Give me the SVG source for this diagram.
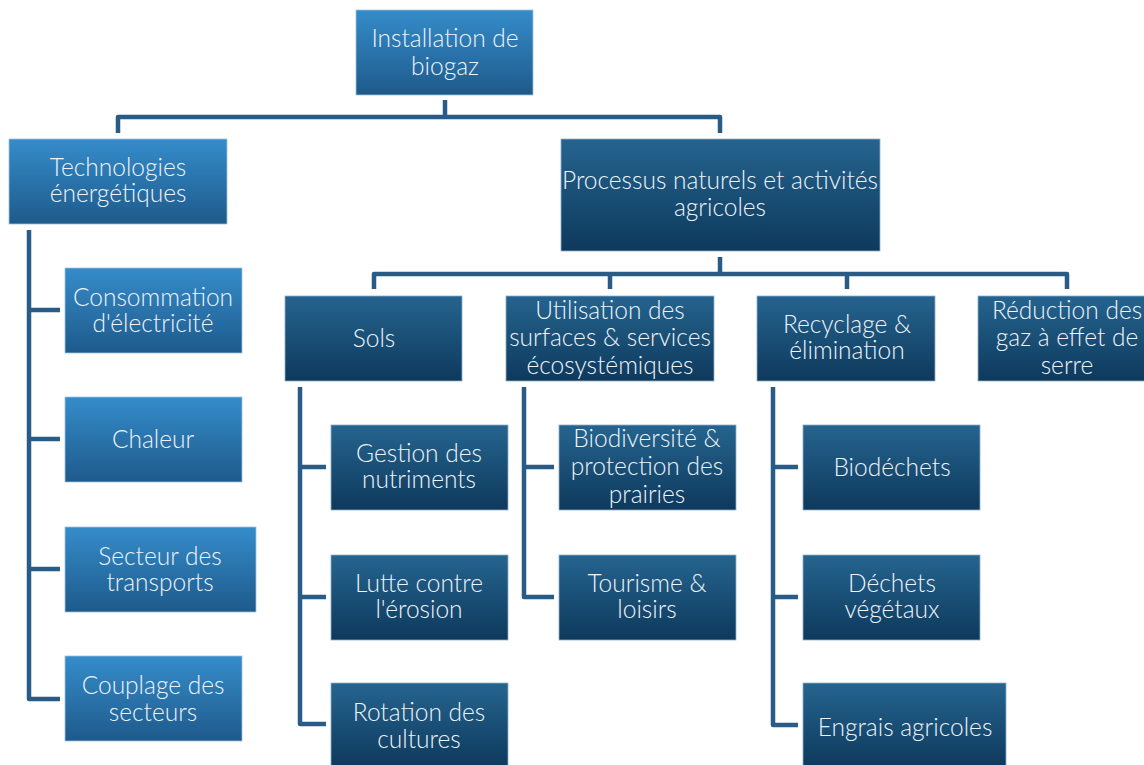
<svg xmlns="http://www.w3.org/2000/svg" width="1144" height="765" viewBox="0 0 1144 765">
<defs>
<linearGradient id="gLight" x1="0" y1="0" x2="0" y2="1">
<stop offset="0" stop-color="#358cca"/>
<stop offset="1" stop-color="#1e5a8b"/>
</linearGradient>
<linearGradient id="gDark" x1="0" y1="0" x2="0" y2="1">
<stop offset="0" stop-color="#25648f"/>
<stop offset="1" stop-color="#0e395c"/>
</linearGradient>
</defs>
<style>
.light{fill:url(#gLight);stroke:#9cc3e0;stroke-width:0.8}
.dark{fill:url(#gDark);stroke:#8fb0c8;stroke-width:0.8}
text{font-family:Lato,"Open Sans","Liberation Sans",sans-serif;font-weight:300;font-size:24.5px;fill:#eef4fa;text-anchor:middle}
.conn path{fill:none;stroke:#285b86;stroke-width:4.5;stroke-linejoin:round;stroke-linecap:butt}
</style>
<rect width="1144" height="765" fill="#ffffff"/>
<g class="conn" id="connectors">
<path d="M445,100 V117"/>
<path d="M118,133 V117 H720 V133"/>
<path d="M29,230 V699 H60"/>
<path d="M29,310 H60 M29,439 H60 M29,569 H60"/>
<path d="M720,257 V274"/>
<path d="M374,289 V274 H1067 V289 M610,274 V289 M847,274 V289"/>
<path d="M300,387 V724 H326 M300,467 H326 M300,597 H326"/>
<path d="M524,387 V597 H554 M524,467 H554"/>
<path d="M773,387 V725 H798 M773,467 H798 M773,597 H798"/>
</g>
<g id="n-root"><rect class="light" x="356" y="10" width="177" height="85"/><text x="445" y="47">Installation de</text><text x="445" y="75">biogaz</text></g>
<g id="n-tech"><rect class="light" x="9" y="139" width="218" height="85"/><text x="118" y="176">Technologies</text><text x="118" y="202">énergétiques</text></g>
<g id="n-conso"><rect class="light" x="65" y="268" width="177" height="85"/><text x="153" y="306">Consommation</text><text x="153" y="332">d'électricité</text></g>
<g id="n-chaleur"><rect class="light" x="65" y="397" width="177" height="85"/><text x="153" y="448">Chaleur</text></g>
<g id="n-transport"><rect class="light" x="65" y="527" width="191" height="85"/><text x="160" y="565">Secteur des</text><text x="160" y="591">transports</text></g>
<g id="n-couplage"><rect class="light" x="65" y="656" width="177" height="85"/><text x="153" y="694">Couplage des</text><text x="153" y="721">secteurs</text></g>
<g id="n-proc"><rect class="dark" x="561" y="139" width="319" height="112"/><text x="720" y="189">Processus naturels et activités</text><text x="720" y="216">agricoles</text></g>
<g id="n-sols"><rect class="dark" x="285" y="296" width="177" height="85"/><text x="374" y="347">Sols</text></g>
<g id="n-util"><rect class="dark" x="506" y="296" width="208" height="85"/><text x="610" y="319">Utilisation des</text><text x="610" y="346">surfaces &amp; services</text><text x="610" y="374">écosystémiques</text></g>
<g id="n-recy"><rect class="dark" x="757" y="296" width="178" height="85"/><text x="847" y="333">Recyclage &amp;</text><text x="847" y="359">élimination</text></g>
<g id="n-ges"><rect class="dark" x="978" y="296" width="178" height="85"/><text x="1067" y="319">Réduction des</text><text x="1067" y="346">gaz à effet de</text><text x="1067" y="374">serre</text></g>
<g id="n-nutri"><rect class="dark" x="331" y="425" width="177" height="85"/><text x="419" y="462">Gestion des</text><text x="419" y="488">nutriments</text></g>
<g id="n-erosion"><rect class="dark" x="331" y="555" width="177" height="85"/><text x="419" y="592">Lutte contre</text><text x="419" y="618">l'érosion</text></g>
<g id="n-rotation"><rect class="dark" x="331" y="683" width="177" height="85"/><text x="419" y="721">Rotation des</text><text x="419" y="748">cultures</text></g>
<g id="n-biodiv"><rect class="dark" x="559" y="425" width="177" height="85"/><text x="647" y="447">Biodiversité &amp;</text><text x="647" y="475">protection des</text><text x="647" y="503">prairies</text></g>
<g id="n-tourisme"><rect class="dark" x="559" y="555" width="177" height="85"/><text x="647" y="592">Tourisme &amp;</text><text x="647" y="618">loisirs</text></g>
<g id="n-biodechets"><rect class="dark" x="803" y="425" width="177" height="85"/><text x="892" y="476">Biodéchets</text></g>
<g id="n-vegetaux"><rect class="dark" x="803" y="555" width="177" height="85"/><text x="892" y="592">Déchets</text><text x="892" y="618">végétaux</text></g>
<g id="n-engrais"><rect class="dark" x="803" y="683" width="203" height="85"/><text x="905" y="736">Engrais agricoles</text></g>
</svg>
